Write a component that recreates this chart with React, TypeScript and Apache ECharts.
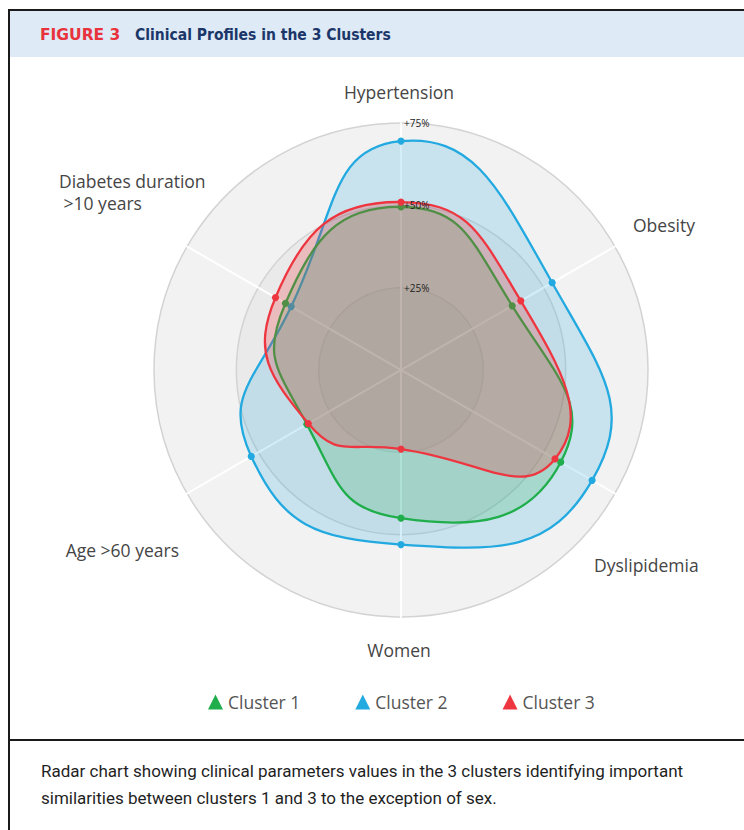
import React, { useEffect, useRef } from 'react';
import * as echarts from 'echarts';

// Axes listed clockwise starting from the top
const categories = [
  'Hypertension',
  'Obesity',
  'Dyslipidemia',
  'Women',
  'Age >60 years',
  'Diabetes duration\n >10 years',
];
const clusterNames = ['Cluster 1', 'Cluster 2', 'Cluster 3'];
const cluster1 = [49.5, 39, 56, 45, 33, 40.5];
const cluster2 = [69.5, 53, 67, 53, 52.5, 38.5];
const cluster3 = [51, 42, 54, 24, 32.5, 44];
const radialTicks = [0, 25, 50, 75];

const titleLabel = 'FIGURE 3';
const titleText = 'Clinical Profiles in the 3 Clusters';
const captionText =
  'Radar chart showing clinical parameters values in the 3 clusters identifying important\nsimilarities between clusters 1 and 3 to the exception of sex.';

const CX = 401;
const CY = 370;
const R = 247;

// label placement for each category (same order as categories)
const labelLayout = [
  { x: 399, y: 92, align: 'center' },
  { x: 633, y: 225, align: 'left' },
  { x: 594, y: 565, align: 'left' },
  { x: 399, y: 650, align: 'center' },
  { x: 179, y: 550, align: 'right' },
  { x: 59, y: 192, align: 'left' },
];

const palette = {
  'Cluster 1': { line: '#1fae4b', fill: 'rgba(34,177,76,0.2)' },
  'Cluster 2': { line: '#22a9e0', fill: 'rgba(41,168,223,0.2)' },
  'Cluster 3': { line: '#ee3640', fill: 'rgba(237,50,55,0.25)' },
};

export default function App() {
  const ref = useRef<HTMLDivElement>(null);
  useEffect(() => {
    document.body.style.margin = '0';
    const chart = echarts.init(ref.current!, null, { renderer: 'svg' });
    const n = categories.length;
    const maxVal = radialTicks[radialTicks.length - 1];
    const angles = categories.map((_, i) => (i * 360) / n);

    // radar indicators go counter-clockwise
    const indicator = categories.map((_, k) => ({
      name: categories[(n - k) % n],
      min: 0,
      max: maxVal,
    }));

    const makeSeries = (name: string, values: number[]) => {
      const c = (palette as any)[name];
      return {
        type: 'custom',
        name,
        coordinateSystem: 'polar',
        itemStyle: { color: c.line },
        z: 5,
        data: values.map((v, i) => [v, angles[i]]),
        renderItem: (params: any, api: any) => {
          const idx = params.dataIndex;
          const pt = api.coord([api.value(0), api.value(1)]);
          const children: any[] = [];
          if (idx === 0) {
            const pts = values.map((v, i) => api.coord([v, angles[i]]));
            children.push({
              type: 'polygon',
              shape: { points: pts, smooth: 0.55 },
              style: { fill: c.fill, stroke: c.line, lineWidth: 2.3 },
            });
          }
          children.push({
            type: 'circle',
            shape: { cx: pt[0], cy: pt[1], r: 3.6 },
            style: { fill: c.line },
          });
          return { type: 'group', children };
        },
      };
    };

    const option: any = {
      animation: false,
      textStyle: { fontFamily: "'Open Sans', sans-serif" },
      radar: {
        center: [CX, CY],
        radius: R,
        shape: 'circle',
        splitNumber: radialTicks.length - 1,
        startAngle: 90,
        indicator,
        axisName: { show: false },
        axisLine: { lineStyle: { color: '#ffffff', width: 2 } },
        splitLine: { lineStyle: { color: '#d3d3d3', width: 1.5 } },
        splitArea: {
          show: true,
          areaStyle: { color: ['#e2e2e2', '#eaeaea', '#f2f2f2'] },
        },
      },
      polar: { center: [CX, CY], radius: R },
      angleAxis: {
        type: 'value',
        min: 0,
        max: 360,
        startAngle: 90,
        clockwise: true,
        show: false,
      },
      radiusAxis: {
        type: 'value',
        min: 0,
        max: maxVal,
        interval: radialTicks[1] - radialTicks[0],
        z: 10,
        axisLine: { show: false },
        axisTick: { show: false },
        splitLine: { show: false },
        axisLabel: {
          show: true,
          margin: -3,
          align: 'left',
          fontSize: 10,
          color: '#222',
          fontFamily: "'Open Sans', sans-serif",
          formatter: (v: number) => (v === 0 ? '' : '+' + v + '%'),
        },
      },
      legend: {
        data: clusterNames,
        icon: 'triangle',
        left: 203,
        top: 688,
        itemWidth: 15,
        itemHeight: 15,
        itemGap: 55,
        textStyle: { fontSize: 17.5, color: '#555', fontFamily: "'Open Sans', sans-serif" },
      },
      graphic: [
        {
          type: 'rect',
          shape: { x: 9, y: 11, width: 740, height: 46 },
          style: { fill: '#deeaf6' },
          silent: true,
        },
        {
          type: 'line',
          shape: { x1: 8, y1: 10, x2: 744, y2: 10 },
          style: { stroke: '#1a1a1a', lineWidth: 2 },
        },
        {
          type: 'line',
          shape: { x1: 9, y1: 10, x2: 9, y2: 830 },
          style: { stroke: '#1a1a1a', lineWidth: 2 },
        },
        {
          type: 'line',
          shape: { x1: 8, y1: 740, x2: 744, y2: 740 },
          style: { stroke: '#1a1a1a', lineWidth: 2 },
        },
        {
          type: 'text',
          x: 40,
          y: 35,
          style: {
            text: titleLabel,
            fill: '#e8333c',
            font: "bold 15.5px 'DejaVu Sans', sans-serif",
            verticalAlign: 'middle',
          },
        },
        {
          type: 'text',
          x: 135,
          y: 35,
          style: {
            text: titleText,
            fill: '#1b3668',
            font: "bold 15.5px 'Liberation Sans Narrow', 'DejaVu Sans Condensed', Roboto, sans-serif",
            verticalAlign: 'middle',
          },
        },
        {
          type: 'text',
          x: 41,
          y: 784,
          style: {
            text: captionText,
            fill: '#1f1f1f',
            font: "17px Roboto, sans-serif",
            lineHeight: 27,
            verticalAlign: 'middle',
          },
        },
        ...categories.map((name, i) => ({
          type: 'text',
          x: labelLayout[i].x,
          y: labelLayout[i].y,
          style: {
            text: name,
            fill: '#454545',
            font: "17.5px 'Open Sans', sans-serif",
            align: labelLayout[i].align,
            verticalAlign: 'middle',
            lineHeight: 22,
          },
        })),
      ],
      series: [
        makeSeries('Cluster 2', cluster2),
        makeSeries('Cluster 1', cluster1),
        makeSeries('Cluster 3', cluster3),
      ],
    };
    chart.setOption(option);
    return () => chart.dispose();
  }, []);
  return <div ref={ref} style={{ width: 744, height: 830 }} />;
}
